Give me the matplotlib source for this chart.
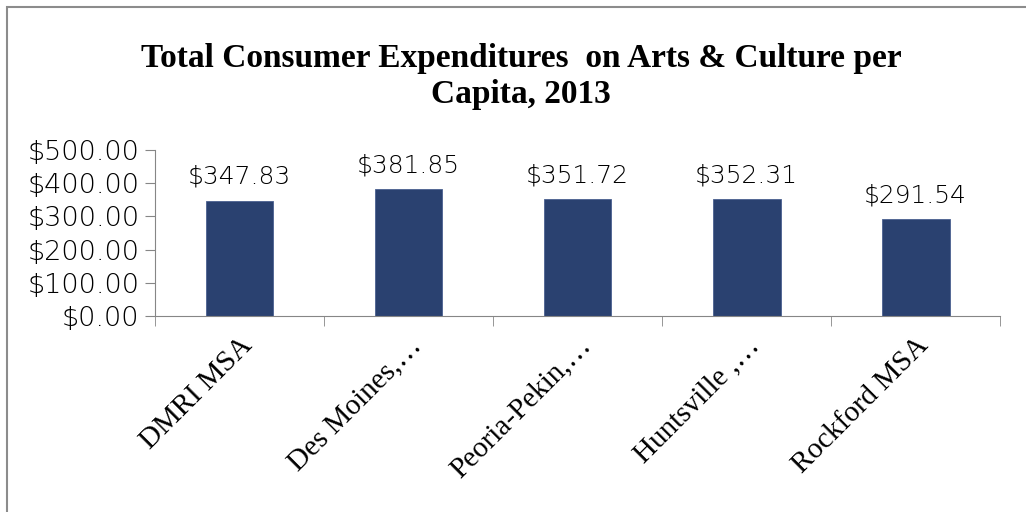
import matplotlib.pyplot as plt
from matplotlib.patches import Rectangle
import numpy as np

categories = ["DMRI MSA", "Des Moines,\u2026", "Peoria-Pekin,\u2026", "Huntsville ,\u2026", "Rockford MSA"]
values = [347.83, 381.85, 351.72, 352.31, 291.54]
yticks = [0, 100, 200, 300, 400, 500]

bar_color = "#2a4170"
axis_gray = "#868686"

fig = plt.figure(figsize=(10.26, 5.12), dpi=100)
ax = fig.add_axes([0.151, 0.383, 0.824, 0.324])

x = np.arange(len(categories))
ax.bar(x, values, width=0.4, color=bar_color, edgecolor="#4a6090", linewidth=0.6)

for xi, v in zip(x, values):
    ax.text(xi, v + 35, "${:.2f}".format(v), ha="center", va="bottom",
            fontsize=18, family="DejaVu Sans", fontweight="light")

ax.set_xlim(-0.5, len(categories) - 0.5)
ax.set_ylim(0, 500)
ax.set_yticks(yticks)
ax.set_yticklabels(["${:.2f}".format(t) for t in yticks], fontsize=19.5,
                   family="DejaVu Sans", fontweight="light")

# category labels at bar centres, tick marks at category boundaries
ax.set_xticks(x)
ax.set_xticklabels(categories, rotation=45, ha="right", rotation_mode="anchor",
                   fontsize=21, family="Liberation Serif")
ax.tick_params(axis="x", length=0, pad=12)
ax.set_xticks(np.arange(len(categories) + 1) - 0.5, minor=True)
ax.tick_params(axis="x", which="minor", length=7, color=axis_gray, direction="out")
ax.tick_params(axis="y", length=7, color=axis_gray, direction="out", pad=4)

for s in ["top", "right"]:
    ax.spines[s].set_visible(False)
for s in ["left", "bottom"]:
    ax.spines[s].set_color(axis_gray)

fig.text(0.508, 0.85, "Total Consumer Expenditures  on Arts & Culture per\nCapita, 2013",
         ha="center", va="center", fontsize=24, fontweight="bold",
         family="Liberation Serif", linespacing=1.2)

fig.patches.append(Rectangle((7 / 1026, -0.1), 1.2, 1.1 - 7 / 512,
                             transform=fig.transFigure, fill=False,
                             edgecolor="#8c8c8c", linewidth=1.5))

fig.savefig("out.png", dpi=100)
